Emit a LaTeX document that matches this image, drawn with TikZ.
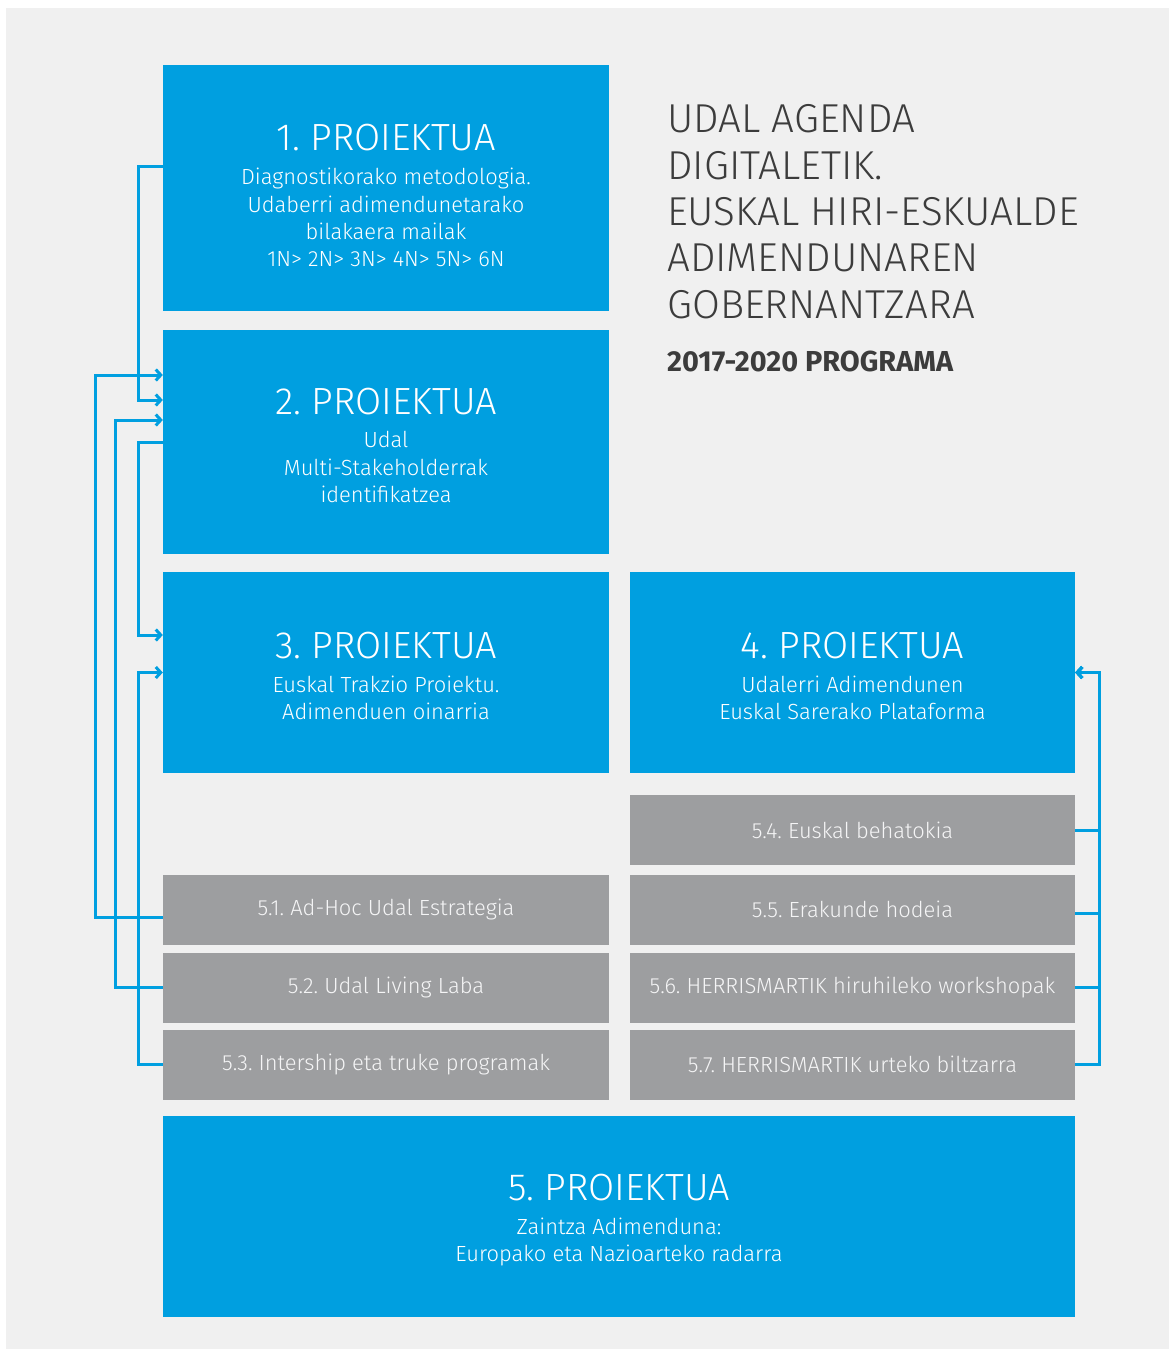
\documentclass[tikz,border=0pt]{standalone}
\usepackage{fontspec}
\setmainfont{Fira Sans}[UprightFont=* Light, BoldFont=* Bold]
\usetikzlibrary{arrows.meta}
\definecolor{projblue}{HTML}{009FE0}
\definecolor{subgray}{HTML}{9D9EA0}
\definecolor{panel}{HTML}{F0F0F0}
\definecolor{inkgray}{HTML}{3C3C3C}
\frenchspacing
\def\ptitle{\fontsize{38}{44}\selectfont\rule{0pt}{33bp}}
\def\psub{\fontsize{22}{27.5}\selectfont}
\def\blink{\draw[link]}

\begin{document}
\begin{tikzpicture}[x=1bp,y=-1bp,
  proj/.style={fill=projblue,text=white,inner sep=0pt,align=center,font=\psub},
  subbox/.style={fill=subgray,text=white!90!subgray,inner sep=0pt,minimum height=70bp,font=\psub},
  link/.style={draw=projblue,line width=3bp,-{Straight Barb[length=5bp,width=11bp]}}]
  \useasboundingbox (0,0) rectangle (1169,1349);
  \fill[white] (0,0) rectangle (1169,1349);
  \fill[panel] (6,8) rectangle (1169,1349);

  % projects
  \node[proj,minimum width=446bp,minimum height=246bp] (p1) at (386,188)
    {{\ptitle\rule{0pt}{42bp}1. PROIEKTUA}\\[6.5bp]Diagnostikorako metodologia.\\Udaberri adimendunetarako\\bilakaera mailak\\1N> 2N> 3N> 4N> 5N> 6N};
  \node[proj,minimum width=446bp,minimum height=224bp] (p2) at (386,442)
    {{\ptitle 2. PROIEKTUA}\\[6.5bp]Udal\\Multi-Stakeholderrak\\identifikatzea};
  \node[proj,minimum width=446bp,minimum height=201bp] (p3) at (386,672.5)
    {{\ptitle 3. PROIEKTUA}\\[6.5bp]Euskal Trakzio Proiektu.\\Adimenduen oinarria};
  \node[proj,minimum width=445bp,minimum height=201bp] (p4) at (852.5,672.5)
    {{\ptitle 4. PROIEKTUA}\\[6.5bp]Udalerri Adimendunen\\Euskal Sarerako Plataforma};
  \node[proj,minimum width=912bp,minimum height=201bp] (p5) at (619,1216.5)
    {{\ptitle 5. PROIEKTUA}\\[6.5bp]Zaintza Adimenduna:\\Europako eta Nazioarteko radarra};

  % sub-projects
  \node[subbox,minimum width=446bp] (s51) at (386,909.5) {5.1. Ad-Hoc Udal Estrategia};
  \node[subbox,minimum width=446bp] (s52) at (386,987.5) {5.2. Udal Living Laba};
  \node[subbox,minimum width=446bp] (s53) at (386,1064.5) {5.3. Intership eta truke programak};
  \node[subbox,minimum width=445bp] (s54) at (852.5,830) {5.4. Euskal behatokia};
  \node[subbox,minimum width=445bp] (s55) at (852.5,909.5) {5.5. Erakunde hodeia};
  \node[subbox,minimum width=445bp] (s56) at (852.5,987.5) {5.6. HERRISMARTIK hiruhileko workshopak};
  \node[subbox,minimum width=445bp] (s57) at (852.5,1064.5) {5.7. HERRISMARTIK urteko biltzarra};

  % heading
  \node[anchor=base west,inner sep=0pt,align=left,text=inkgray,
        font=\fontsize{40.5}{46.5}\selectfont] (head) at (667,318)
    {UDAL AGENDA\\DIGITALETIK.\\EUSKAL HIRI-ESKUALDE\\ADIMENDUNAREN\\GOBERNANTZARA};
  \node[anchor=base west,inner sep=0pt,text=inkgray,
        font=\fontsize{29}{34}\selectfont\bfseries] (prog) at (667,371) {2017-2020 PROGRAMA};

  % left connectors
  \blink ([yshift=21bp]p1.west) -- ++(-24bp,0) |- ([yshift=42bp]p2.west);
  \blink ([yshift=-8bp]s51.west) -- ++(-67bp,0) |- ([yshift=67bp]p2.west);
  \blink (s52.west) -- ++(-47bp,0) |- ([yshift=22bp]p2.west);
  \blink (p2.west) -- ++(-24bp,0) |- ([yshift=37.5bp]p3.west);
  \blink (s53.west) -- ++(-24bp,0) |- (p3.west);

  % right connectors
  \blink (s54.east) -- ++(24bp,0) |- (p4.east);
  \blink ([yshift=-4bp]s55.east) -- ++(24bp,0) |- (p4.east);
  \blink (s56.east) -- ++(24bp,0) |- (p4.east);
  \blink (s57.east) -- ++(24bp,0) |- (p4.east);
\end{tikzpicture}
\end{document}
